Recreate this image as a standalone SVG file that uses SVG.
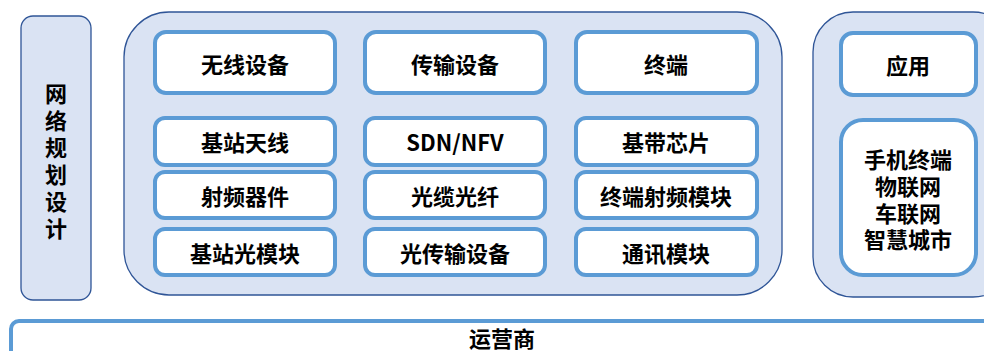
<svg xmlns="http://www.w3.org/2000/svg" width="984" height="351" viewBox="0 0 984 351">
<style>
.panel{fill:#dae3f3;stroke:#2f5597;stroke-width:1.3}
.box{fill:#ffffff;stroke:#5b9bd5;stroke-width:4}
.t{font-family:"Noto Sans CJK SC","Noto Sans",sans-serif;font-weight:bold;font-size:22px;fill:#000;text-anchor:middle;dominant-baseline:central}
</style>
<rect width="984" height="351" fill="#ffffff"/>
<g id="planning">
<rect class="panel" x="21" y="16" width="70" height="284" rx="12"/>
<text class="t" x="56" y="92">网</text>
<text class="t" x="56" y="119">络</text>
<text class="t" x="56" y="146">规</text>
<text class="t" x="56" y="173">划</text>
<text class="t" x="56" y="200">设</text>
<text class="t" x="56" y="227">计</text>
</g>
<g id="main-panel">
<rect class="panel" x="124" y="12" width="658" height="283" rx="45"/>
</g>
<g id="app-panel">
<rect class="panel" x="813" y="12" width="200" height="285" rx="40"/>
</g>
<g id="n-wireless"><rect class="box" x="155" y="32" width="180" height="61" rx="11"/><text class="t" x="245" y="63">无线设备</text></g>
<g id="n-transport"><rect class="box" x="365" y="32" width="180" height="61" rx="11"/><text class="t" x="455" y="63">传输设备</text></g>
<g id="n-terminal"><rect class="box" x="576" y="32" width="181" height="61" rx="11"/><text class="t" x="666" y="63">终端</text></g>
<g id="n-antenna"><rect class="box" x="155" y="118" width="180" height="47" rx="10"/><text class="t" x="245" y="141">基站天线</text></g>
<g id="n-sdn"><rect class="box" x="365" y="118" width="180" height="47" rx="10"/><text class="t" x="455" y="141">SDN/NFV</text></g>
<g id="n-baseband"><rect class="box" x="576" y="118" width="181" height="47" rx="10"/><text class="t" x="666" y="141">基带芯片</text></g>
<g id="n-rf"><rect class="box" x="155" y="172" width="180" height="46" rx="10"/><text class="t" x="245" y="195">射频器件</text></g>
<g id="n-fiber"><rect class="box" x="365" y="172" width="180" height="46" rx="10"/><text class="t" x="455" y="195">光缆光纤</text></g>
<g id="n-termrf"><rect class="box" x="576" y="172" width="181" height="46" rx="10"/><text class="t" x="666" y="195">终端射频模块</text></g>
<g id="n-optmod"><rect class="box" x="155" y="229" width="180" height="46" rx="10"/><text class="t" x="245" y="252">基站光模块</text></g>
<g id="n-opttrans"><rect class="box" x="365" y="229" width="180" height="46" rx="10"/><text class="t" x="455" y="252">光传输设备</text></g>
<g id="n-comm"><rect class="box" x="576" y="229" width="181" height="46" rx="10"/><text class="t" x="666" y="252">通讯模块</text></g>
<g id="n-app"><rect class="box" x="841" y="33" width="135" height="62" rx="12"/><text class="t" x="908" y="64">应用</text></g>
<g id="n-uses"><rect class="box" x="841" y="120" width="135" height="155" rx="22"/>
<text class="t" x="908" y="158">手机终端</text>
<text class="t" x="908" y="185">物联网</text>
<text class="t" x="908" y="212">车联网</text>
<text class="t" x="908" y="238">智慧城市</text>
</g>
<g id="operator"><rect class="box" x="11" y="321" width="1000" height="60" rx="8"/><text class="t" x="502" y="337">运营商</text></g>
<g id="connectors"></g>
</svg>
